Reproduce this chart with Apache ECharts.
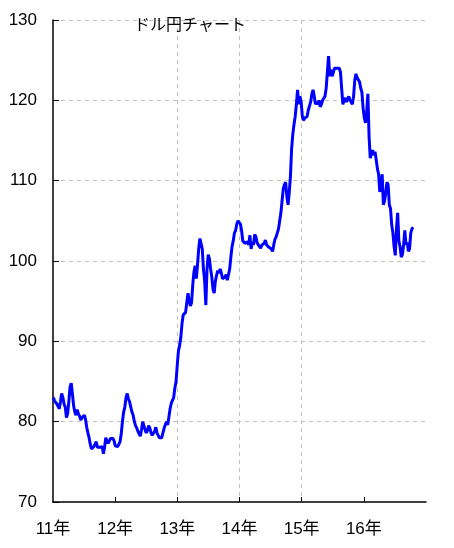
<!DOCTYPE html>
<html>
<head>
<meta charset="utf-8">
<script src="https://cdn.jsdelivr.net/npm/echarts@6/dist/echarts.min.js"></script>
<style>
html,body{margin:0;padding:0;background:#fff;}
#chart{width:454px;height:548px;}
</style>
</head>
<body>
<div id="chart"></div>
<script>
// USD/JPY weekly closes, first week starting 2011-01-03
const startYear = 2011;
const startDayOffset = 2; // Jan 3
const weekDays = 7;
const rate2011 = [83.0,82.6,82.8,82.2,82.0,81.6,82.5,83.5,83.0,82.2,81.8,80.5,81.0,82.5,84.3,84.8,83.5,82.0,81.2,80.8,81.5,81.0,80.7,80.2,80.5,80.4,80.8,80.3,79.3,78.6,78.0,77.2,76.6,76.6,76.9,76.7,77.5,76.8,76.7,76.8,76.7,76.9,76.0,76.8,78.0,77.6,77.3,77.6,77.9,77.7,77.9,77.6];
const rate2012 = [77.0,76.8,76.9,76.9,77.5,78.5,80.0,81.2,81.8,83.0,83.5,82.8,82.5,81.8,81.2,80.8,80.0,79.5,79.2,78.8,78.5,78.2,79.0,80.0,79.8,79.0,78.6,78.9,79.5,79.2,78.6,78.3,78.5,78.8,79.3,78.6,78.3,78.0,78.2,78.0,78.6,79.2,79.6,80.0,79.6,80.6,81.6,82.3,82.5,83.0,84.2,85.0];
const rate2013 = [87.0,88.8,89.5,90.5,92.2,93.3,93.2,93.6,94.8,96.0,95.0,94.4,94.8,97.0,98.6,99.4,97.8,99.5,101.5,102.8,103.0,101.5,99.0,97.5,94.5,99.0,100.8,100.3,99.0,98.0,96.5,96.0,97.5,98.2,98.8,98.5,99.0,98.5,97.8,97.6,98.0,98.3,97.6,98.3,99.0,100.5,101.8,102.5,103.5,103.8,104.6,105.0];
const rate2014 = [105.2,104.6,103.8,102.5,102.3,102.2,102.0,102.4,102.0,103.2,101.5,102.3,102.0,103.3,103.0,102.3,102.0,101.8,101.6,102.0,101.9,102.2,102.6,102.0,101.8,101.7,101.6,101.5,101.2,102.0,102.7,103.0,103.5,104.0,105.0,106.0,107.5,109.0,109.5,109.8,108.0,107.0,108.5,110.5,114.0,115.8,117.0,118.0,119.5,121.3,119.5,120.5];
const rate2015 = [119.8,118.0,117.5,117.8,117.6,118.0,118.8,119.0,119.8,120.8,121.3,120.5,119.5,119.8,119.5,120.0,119.2,119.5,120.0,119.8,120.5,121.5,123.5,125.5,123.0,123.8,123.0,123.5,124.0,123.8,124.0,124.2,124.0,123.5,121.5,119.5,120.0,120.3,119.8,120.2,120.5,120.0,119.8,119.5,120.5,122.5,123.3,122.8,123.0,122.3,121.5,121.0];
const rate2016 = [119.0,117.8,117.2,118.5,120.8,115.5,112.8,113.3,113.8,113.2,113.6,112.6,111.5,110.8,108.6,109.5,110.8,107.0,107.5,108.5,109.8,109.5,107.0,106.5,104.5,103.5,101.8,100.7,104.0,106.0,102.5,101.8,100.5,100.8,102.0,103.8,102.0,102.3,101.2,101.5,103.5,104.0,104.2];
const yearTicks = [2011,2012,2013,2014,2015,2016];
const titleText = 'ドル円チャート';

const rates = [].concat(rate2011, rate2012, rate2013, rate2014, rate2015, rate2016);
const seriesData = rates.map((v, i) => [startYear + (startDayOffset + i * weekDays) / 365.25, v]);

const font = '"Liberation Sans", "Noto Sans CJK JP", sans-serif';
const chart = echarts.init(document.getElementById('chart'));
chart.setOption({
  animation: false,
  backgroundColor: '#fff',
  title: {
    text: titleText,
    left: 129, top: 11,
    textStyle: {fontSize: 16, fontWeight: 'normal', color: '#000', fontFamily: '"Noto Sans CJK JP", sans-serif'}
  },
  grid: {left: 53, right: 28, top: 20, bottom: 46, containLabel: false},
  xAxis: {
    type: 'value', min: 2011, max: 2017, interval: 1,
    axisLine: {show: true, lineStyle: {color: '#000', width: 1.5}},
    axisTick: {show: true, inside: true, length: 5, customValues: yearTicks.slice(1), lineStyle: {color: '#000'}},
    axisLabel: {
      customValues: yearTicks,
      formatter: v => String(v).slice(2) + '年',
      color: '#000', fontSize: 17, margin: 19, fontFamily: font
    },
    splitLine: {show: true, showMinLine: false, showMaxLine: false, lineStyle: {color: '#c0c0c0', type: [4, 4]}}
  },
  yAxis: {
    type: 'value', min: 70, max: 130, interval: 10,
    axisLine: {show: true, lineStyle: {color: '#000', width: 1.5}},
    axisTick: {show: true, inside: true, length: 6, lineStyle: {color: '#000'}},
    axisLabel: {color: '#000', fontSize: 17, margin: 16, fontFamily: font},
    splitLine: {show: true, showMinLine: false, lineStyle: {color: '#c0c0c0', type: [4, 4]}}
  },
  series: [{
    type: 'line',
    data: seriesData,
    showSymbol: false,
    symbol: 'none',
    lineStyle: {color: '#0000ff', width: 3},
    itemStyle: {color: '#0000ff'}
  }]
});
</script>
</body>
</html>
